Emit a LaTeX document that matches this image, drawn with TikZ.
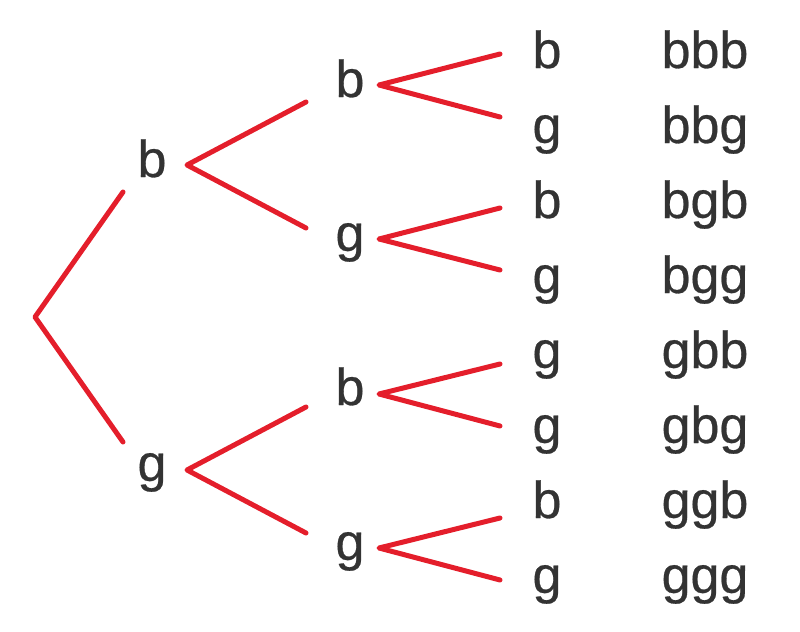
\documentclass[tikz,border=0pt]{standalone}
\usepackage{fontspec}
\setmainfont{Liberation Sans}
\newfontfamily\labelfont[FakeBold=0.5]{Liberation Sans}
\definecolor{branchred}{HTML}{E41E2B}
\definecolor{labelgray}{HTML}{333333}
\tikzset{
    branch/.style={draw=branchred, line width=2.5pt, line cap=round, line join=round},
    outcome/.style={anchor=base, text=labelgray, inner sep=0pt,
        font=\labelfont\fontsize{26}{30}\selectfont}
}

\begin{document}
\begin{tikzpicture}[x=0.5pt, y=-0.5pt]
\useasboundingbox (0,0) rectangle (800,632);

% First child
\node[outcome] (b) at (152,177) {b};
\node[outcome] (g) at (152,481) {g};

% Second child
\node[outcome] (bb) at (350,97) {b};
\node[outcome] (bg) at (350,251) {g};
\node[outcome] (gb) at (350,405) {b};
\node[outcome] (gg) at (350,560) {g};

% Third child
\node[outcome] (bbb) at (547,68) {b};
\node[outcome] (bbg) at (547,143) {g};
\node[outcome] (bgb) at (547,218) {b};
\node[outcome] (bgg) at (547,293) {g};
\node[outcome] (gbb) at (547,368) {g};
\node[outcome] (gbg) at (547,443) {g};
\node[outcome] (ggb) at (547,518) {b};
\node[outcome] (ggg) at (547,593) {g};

% Outcomes
\node[outcome] (bbb-txt) at (705,68) {bbb};
\node[outcome] (bbg-txt) at (705,143) {bbg};
\node[outcome] (bgb-txt) at (705,218) {bgb};
\node[outcome] (bgg-txt) at (705,293) {bgg};
\node[outcome] (gbb-txt) at (705,368) {gbb};
\node[outcome] (gbg-txt) at (705,443) {gbg};
\node[outcome] (ggb-txt) at (705,518) {ggb};
\node[outcome] (ggg-txt) at (705,593) {ggg};

% Branch ends
\coordinate (root) at (35,317);
\coordinate (b-in) at (123,192);
\coordinate (g-in) at (123,442);
\coordinate (b-out) at (187,165);
\coordinate (g-out) at (187,470);
\coordinate (bb-in) at (306,102);
\coordinate (bg-in) at (306,228);
\coordinate (gb-in) at (306,407);
\coordinate (gg-in) at (306,533);
\coordinate (bb-out) at (379,85);
\coordinate (bg-out) at (379,239);
\coordinate (gb-out) at (379,394);
\coordinate (gg-out) at (379,548);
\coordinate (bbb-in) at (500,54);
\coordinate (bbg-in) at (500,117);
\coordinate (bgb-in) at (500,208);
\coordinate (bgg-in) at (500,270);
\coordinate (gbb-in) at (500,364);
\coordinate (gbg-in) at (500,426);
\coordinate (ggb-in) at (500,518);
\coordinate (ggg-in) at (500,580);

% Connections
\draw[branch] (b-in) -- (root) -- (g-in);
\draw[branch] (bb-in) -- (b-out) -- (bg-in);
\draw[branch] (gb-in) -- (g-out) -- (gg-in);
\draw[branch] (bbb-in) -- (bb-out) -- (bbg-in);
\draw[branch] (bgb-in) -- (bg-out) -- (bgg-in);
\draw[branch] (gbb-in) -- (gb-out) -- (gbg-in);
\draw[branch] (ggb-in) -- (gg-out) -- (ggg-in);
\end{tikzpicture}
\end{document}
